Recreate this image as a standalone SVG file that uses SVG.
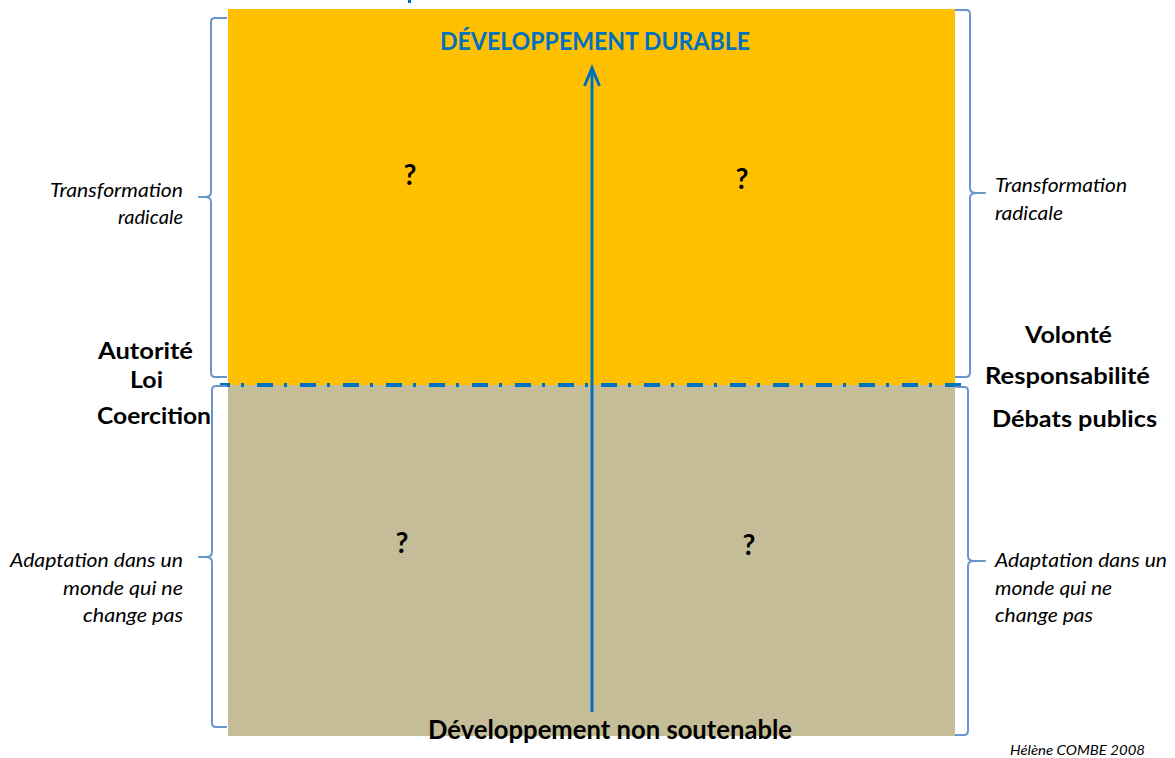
<svg xmlns="http://www.w3.org/2000/svg" width="1175" height="758" viewBox="0 0 1175 758">
  <defs>
    <style>
      .lbl { font-family: Lato, "Liberation Sans", sans-serif; font-weight: bold; fill: #000; }
      .ital { font-family: Lato, "Liberation Sans", sans-serif; font-style: italic; fill: #000; font-size: 18.5px; }
      .q { font-family: Lato, "Liberation Sans", sans-serif; font-weight: bold; font-size: 28px; fill: #000; text-anchor: middle; }
      .brace { fill: none; stroke: #6A94CC; stroke-width: 2; stroke-linejoin: round; }
      .axis { stroke: #0070C0; fill: none; }
    </style>
  </defs>

  <rect width="1175" height="758" fill="#ffffff"/>

  <!-- upper zone -->
  <g id="zone-top">
    <rect x="228" y="9" width="727" height="376" fill="#FFC000"/>
    <text class="q" x="410" y="185">?</text>
    <text class="q" x="742" y="189">?</text>
  </g>

  <!-- lower zone -->
  <g id="zone-bottom">
    <rect x="228" y="385" width="727" height="351" fill="#C4BD97"/>
    <text class="q" x="402" y="553">?</text>
    <text class="q" x="749" y="555">?</text>
  </g>

  <!-- small mark at top edge -->
  <rect x="408" y="0" width="3" height="3" fill="#0070C0"/>

  <!-- connectors: axis and separator -->
  <g id="connectors">
    <line class="axis" x1="220" y1="385" x2="962" y2="385" stroke-width="4" stroke-dasharray="16 11 3 13" stroke-dashoffset="6"/>
    <line class="axis" x1="592" y1="712" x2="592" y2="70" stroke-width="3"/>
    <polyline class="axis" points="584.5,86 592,68 599.5,86" stroke-width="3"/>
  </g>

  <g id="title-top">
    <text x="440" y="50" font-family="Lato, 'Liberation Sans', sans-serif" font-weight="bold" font-size="25" fill="#0070C0" textLength="310" lengthAdjust="spacingAndGlyphs">DÉVELOPPEMENT DURABLE</text>
  </g>

  <g id="title-bottom">
    <text class="lbl" x="428" y="739" font-size="26" textLength="364" lengthAdjust="spacingAndGlyphs">Développement non soutenable</text>
  </g>

  <!-- left side -->
  <g id="brace-left-top">
    <path class="brace" d="M227,18 H215 Q211,18 211,22 V192 Q211,197 205,197 H199 H205 Q211,197 211,202 V372 Q211,377 215,377 H227"/>
    <text class="ital" x="50" y="197" textLength="133" lengthAdjust="spacingAndGlyphs">Transformation</text>
    <text class="ital" x="118" y="224" textLength="65" lengthAdjust="spacingAndGlyphs">radicale</text>
  </g>

  <g id="brace-left-bottom">
    <path class="brace" d="M227,386 H216 Q212,386 212,390 V552 Q212,557 206,557 H199 H206 Q212,557 212,562 V723 Q212,727 216,727 H227"/>
    <text class="ital" x="10" y="567" textLength="173" lengthAdjust="spacingAndGlyphs">Adaptation dans un</text>
    <text class="ital" x="63" y="595" textLength="120" lengthAdjust="spacingAndGlyphs">monde qui ne</text>
    <text class="ital" x="83" y="622" textLength="100" lengthAdjust="spacingAndGlyphs">change pas</text>
  </g>

  <g id="label-left">
    <text class="lbl" x="98" y="359" font-size="23" textLength="95" lengthAdjust="spacingAndGlyphs">Autorité</text>
    <text class="lbl" x="130" y="388" font-size="23" textLength="33" lengthAdjust="spacingAndGlyphs">Loi</text>
    <text class="lbl" x="97" y="424" font-size="23" textLength="114" lengthAdjust="spacingAndGlyphs">Coercition</text>
  </g>

  <!-- right side -->
  <g id="brace-right-top">
    <path class="brace" d="M955,10 H966 Q970,10 970,14 V188 Q970,193 976,193 H985 H976 Q970,193 970,198 V372 Q970,377 966,377 H955"/>
    <text class="ital" x="995" y="192" textLength="132" lengthAdjust="spacingAndGlyphs">Transformation</text>
    <text class="ital" x="995" y="220" textLength="68" lengthAdjust="spacingAndGlyphs">radicale</text>
  </g>

  <g id="brace-right-bottom">
    <path class="brace" d="M955,387 H964 Q968,387 968,391 V556 Q968,561 974,561 H985 H974 Q968,561 968,566 V730 Q968,735 964,735 H955"/>
    <text class="ital" x="995" y="567" textLength="172" lengthAdjust="spacingAndGlyphs">Adaptation dans un</text>
    <text class="ital" x="995" y="595" textLength="117" lengthAdjust="spacingAndGlyphs">monde qui ne</text>
    <text class="ital" x="995" y="622" textLength="98" lengthAdjust="spacingAndGlyphs">change pas</text>
  </g>

  <g id="label-right">
    <text class="lbl" x="1025" y="343" font-size="23" textLength="87" lengthAdjust="spacingAndGlyphs">Volonté</text>
    <text class="lbl" x="985" y="384" font-size="23" textLength="165" lengthAdjust="spacingAndGlyphs">Responsabilité</text>
    <text class="lbl" x="992" y="427" font-size="23" textLength="165" lengthAdjust="spacingAndGlyphs">Débats publics</text>
  </g>

  <g id="credit">
    <text class="ital" x="1010" y="755" style="font-size:13px" textLength="135" lengthAdjust="spacingAndGlyphs">Hélène COMBE 2008</text>
  </g>
</svg>
